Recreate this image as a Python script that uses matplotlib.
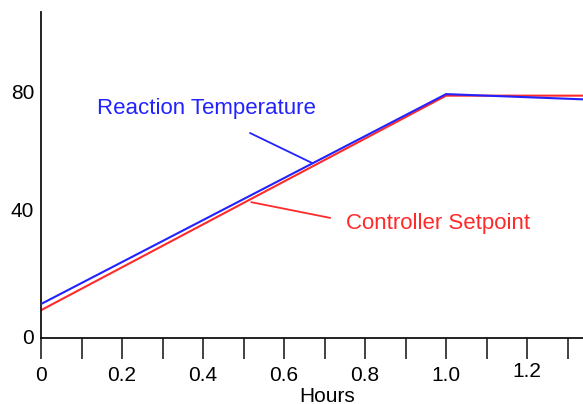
import matplotlib
matplotlib.use("Agg")
import matplotlib.pyplot as plt
from matplotlib.transforms import ScaledTranslation

plt.rcParams['font.family'] = ['Liberation Sans', 'DejaVu Sans']

hours = [0.0, 1.0, 1.34]
setpoint = [9.0, 78.5, 78.5]
temperature = [11.0, 79.0, 77.3]

x_major = [0.0, 0.2, 0.4, 0.6, 0.8, 1.0, 1.2]
x_labels = ["0", "0.2", "0.4", "0.6", "0.8", "1.0", "1.2"]
x_minor = [0.1, 0.3, 0.5, 0.7, 0.9, 1.1, 1.3]
y_ticks = [0, 40, 80]
y_labels = ["0", "40", "80"]

blue = "#2222ff"
red = "#ff2a2a"

fig = plt.figure(figsize=(5.83, 4.04), dpi=100)
ax = fig.add_axes([41/583, 66/404, 542/583, 326/404])
ax.plot(hours, temperature, color=blue, lw=1.5, zorder=3)
ax.plot(hours, setpoint, color=red, lw=1.5, zorder=2)

ax.set_xlim(0, 1.338)
ax.set_ylim(0, 105.6)
ax.spines['top'].set_visible(False)
ax.spines['right'].set_visible(False)
for s in ['left', 'bottom']:
    ax.spines[s].set_linewidth(1.3)
    ax.spines[s].set_color('#111111')

ax.set_xticks(x_major)
ax.set_xticklabels(x_labels)
ax.set_xticks(x_minor, minor=True)
ax.tick_params(axis='x', which='both', direction='out', length=15, width=1.3,
               color='#333333', labelsize=15, pad=5)
ax.set_yticks(y_ticks)
ax.set_yticklabels(y_labels)
ax.tick_params(axis='y', length=0, labelsize=15, pad=5)

def shift(label, px):
    label.set_transform(label.get_transform() + ScaledTranslation(0, px/100, fig.dpi_scale_trans))

shift(ax.get_xticklabels()[6], 4)
shift(ax.get_yticklabels()[1], 5)
shift(ax.get_yticklabels()[0], 2)

fig.text(327/583, 1 - 396/404, "Hours", ha='center', va='center', fontsize=15)

ax.text(0.138, 74.3, "Reaction Temperature", color=blue, fontsize=16, va='center', ha='left')
ax.annotate("", xy=(0.669, 56.7), xytext=(0.516, 66.4),
            arrowprops=dict(arrowstyle='-', color=blue, lw=1.3, shrinkA=0, shrinkB=0))
ax.text(0.753, 37.2, "Controller Setpoint", color=red, fontsize=16, va='center', ha='left')
ax.annotate("", xy=(0.519, 44.0), xytext=(0.714, 38.9),
            arrowprops=dict(arrowstyle='-', color=red, lw=1.3, shrinkA=0, shrinkB=0))

fig.savefig("out.png", dpi=100)
